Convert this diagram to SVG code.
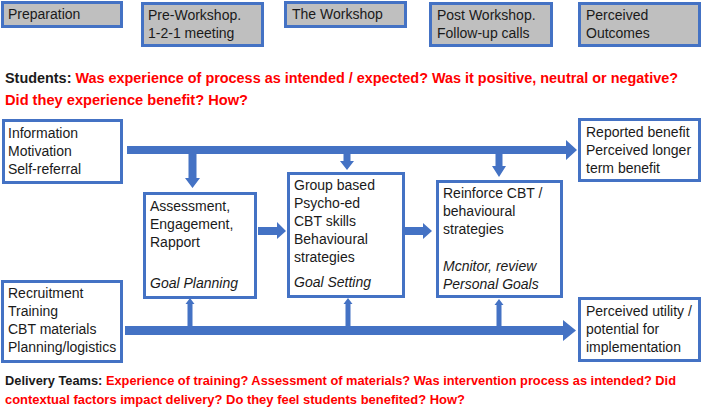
<svg xmlns="http://www.w3.org/2000/svg" width="702" height="408" viewBox="0 0 702 408">
<style>
.hdr{fill:#BFBFBF;stroke:#4472C4;stroke-width:3}
.box{fill:#FFFFFF;stroke:#4472C4;stroke-width:3}
.t{font-family:"Liberation Sans",Arial,sans-serif;font-size:14px;fill:#1a1a1a}
.i{font-style:italic}
.q{font-family:"Liberation Sans",Arial,sans-serif;font-size:14px;font-weight:bold}
.q13{font-size:13px}
.k{fill:#1a1a1a}
.r{fill:#FF0000}
.a{fill:#4472C4}
</style>
<rect width="702" height="408" fill="#FFFFFF"/>

<g id="hdr-preparation"><rect class="hdr" x="2.5" y="2.5" width="119" height="24"/><text class="t" x="8" y="19">Preparation</text></g>
<g id="hdr-preworkshop"><rect class="hdr" x="142.5" y="3.5" width="120" height="42"/><text class="t" x="148" y="20">Pre-Workshop.</text><text class="t" x="148" y="38">1-2-1 meeting</text></g>
<g id="hdr-workshop"><rect class="hdr" x="285.5" y="2.5" width="120" height="24"/><text class="t" x="292" y="19">The Workshop</text></g>
<g id="hdr-postworkshop"><rect class="hdr" x="430.5" y="3.5" width="121" height="42"/><text class="t" x="437" y="20">Post Workshop.</text><text class="t" x="437" y="38">Follow-up calls</text></g>
<g id="hdr-outcomes"><rect class="hdr" x="579.5" y="3.5" width="120" height="42"/><text class="t" x="586" y="20">Perceived</text><text class="t" x="586" y="38">Outcomes</text></g>

<g id="students-q">
<text class="q" x="5" y="83" textLength="673" lengthAdjust="spacingAndGlyphs"><tspan class="k">Students: </tspan><tspan class="r">Was experience of process as intended / expected? Was it positive, neutral or negative?</tspan></text>
<text class="q r" x="5" y="105" textLength="243" lengthAdjust="spacingAndGlyphs">Did they experience benefit? How?</text>
</g>

<g id="connectors">
<polygon class="a" points="127,146 566,146 566,140 577,150 566,160 566,154 127,154"/>
<polygon class="a" points="188.5,154 196.5,154 196.5,178 200,178 192.5,188 185,178 188.5,178"/>
<polygon class="a" points="343.5,154 350.5,154 350.5,161 354,161 347,170 340,161 343.5,161"/>
<polygon class="a" points="495.5,154 502.5,154 502.5,166 506,166 499,177 492,166 495.5,166"/>
<polygon class="a" points="258,227 277,227 277,222 286,231 277,239 277,235 258,235"/>
<polygon class="a" points="405,227 423,227 423,223 432,231 423,239 423,235 405,235"/>
<polygon class="a" points="125,326 563,326 563,320 576,330.5 563,341 563,335 125,335"/>
<polygon class="a" points="187.5,326 187.5,304 185.5,304 190,298 194.5,304 192.5,304 192.5,326"/>
<polygon class="a" points="345.5,326 345.5,304 343.5,304 348,298 352.5,304 350.5,304 350.5,326"/>
<polygon class="a" points="496.5,326 496.5,305 494.5,305 499,299 503.5,305 501.5,305 501.5,326"/>
</g>

<g id="node-info"><rect class="box" x="3.5" y="120.5" width="118" height="62"/>
<text class="t" x="8" y="138">Information</text><text class="t" x="8" y="156">Motivation</text><text class="t" x="8" y="174">Self-referral</text></g>

<g id="node-assessment"><rect class="box" x="144.5" y="193.5" width="111" height="104"/>
<text class="t" x="150" y="211">Assessment,</text><text class="t" x="150" y="229">Engagement,</text><text class="t" x="150" y="247">Rapport</text>
<text class="t i" x="150" y="288">Goal Planning</text></g>

<g id="node-group"><rect class="box" x="288.5" y="173.5" width="115" height="123"/>
<text class="t" x="294" y="190">Group based</text><text class="t" x="294" y="208">Psycho-ed</text><text class="t" x="294" y="226">CBT skills</text><text class="t" x="294" y="244">Behavioural</text><text class="t" x="294" y="262">strategies</text>
<text class="t i" x="294" y="287">Goal Setting</text></g>

<g id="node-reinforce"><rect class="box" x="437.5" y="181.5" width="124" height="115"/>
<text class="t" x="443" y="198">Reinforce CBT /</text><text class="t" x="443" y="216">behavioural</text><text class="t" x="443" y="234">strategies</text>
<text class="t i" x="443" y="271">Mcnitor, review</text><text class="t i" x="443" y="289">Personal Goals</text></g>

<g id="node-reported"><rect class="box" x="579.5" y="119.5" width="120" height="61"/>
<text class="t" x="586" y="137">Reported benefit</text><text class="t" x="586" y="155">Perceived longer</text><text class="t" x="586" y="173">term benefit</text></g>

<g id="node-recruitment"><rect class="box" x="2.5" y="281.5" width="119" height="80"/>
<text class="t" x="8" y="298">Recruitment</text><text class="t" x="8" y="316">Training</text><text class="t" x="8" y="334">CBT materials</text><text class="t" x="8" y="352">Planning/logistics</text></g>

<g id="node-utility"><rect class="box" x="579.5" y="298.5" width="120" height="62"/>
<text class="t" x="586" y="316">Perceived utility /</text><text class="t" x="586" y="334">potential for</text><text class="t" x="586" y="352">implementation</text></g>

<g id="delivery-q">
<text class="q q13" x="5" y="385" textLength="671" lengthAdjust="spacingAndGlyphs"><tspan class="k">Delivery Teams: </tspan><tspan class="r">Experience of training? Assessment of materials? Was intervention process as intended? Did</tspan></text>
<text class="q q13 r" x="5" y="404" textLength="460" lengthAdjust="spacingAndGlyphs">contextual factors impact delivery? Do they feel students benefited? How?</text>
</g>
</svg>
